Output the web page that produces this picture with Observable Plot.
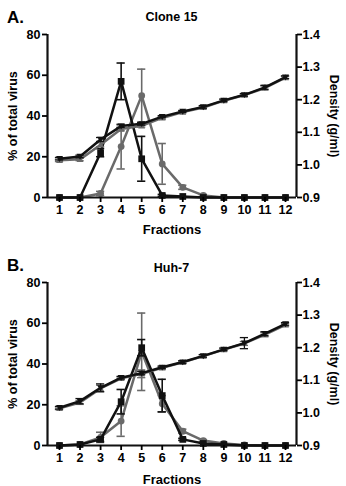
<!DOCTYPE html>
<html><head><meta charset="utf-8">
<script src="https://cdn.jsdelivr.net/npm/d3@7"></script>
<script src="https://cdn.jsdelivr.net/npm/@observablehq/plot@0.6"></script>
<style>
body{margin:0;background:#fff;font-family:"Liberation Sans",Arial,sans-serif;}
#wrap{position:relative;width:346px;height:486px;overflow:hidden;}
.panel{position:absolute;left:0;width:346px;height:243px;}
.letter{position:absolute;left:7px;font-weight:bold;font-size:17px;line-height:1;color:#000;}
.title{position:absolute;left:0;width:343px;text-align:center;font-weight:bold;font-size:12.5px;line-height:1;color:#000;}
</style></head>
<body>
<div id="wrap">
  <div class="panel" id="pA" style="top:0"></div>
  <div class="panel" id="pB" style="top:243px"></div>
  <div class="letter" style="top:9px">A.</div>
  <div class="title" style="top:11px">Clone 15</div>
  <div class="letter" style="top:257px">B.</div>
  <div class="title" style="top:262px">Huh-7</div>
</div>
<script>
const fractions = [1,2,3,4,5,6,7,8,9,10,11,12];

// Panel A: Clone 15
const cloneBlack = [0,0,22,57,19,1,0.5,0,0,0,0,0];
const cloneBlackErr = [0,0,2,9,11,0.5,0,0,0,0,0,0];
const cloneGray = [0,0,2,25,50,16.5,5,1,0,0,0,0];
const cloneGrayErr = [0,0,1,11,13,10,1,0.5,0,0,0,0];
const cloneDensBlack = [1.019,1.026,1.078,1.119,1.126,1.148,1.164,1.178,1.198,1.215,1.238,1.269];
const cloneDensBlackErr = [0.004,0.004,0.006,0.004,0.004,0.003,0.003,0.004,0.004,0.004,0.006,0.004];
const cloneDensGray = [1.014,1.017,1.062,1.110,1.120,1.144,1.162,1.176,1.197,1.214,1.236,1.268];
const cloneDensGrayErr = [0.004,0.004,0.006,0.005,0.004,0.004,0.003,0.004,0.004,0.004,0.006,0.004];

// Panel B: Huh-7
const huhBlack = [0,0.5,3,21.5,48,24.5,3,1,0.5,0,0,0];
const huhBlackErr = [0,0,1,6,4,8,0.5,0,0,0,0,0];
const huhGray = [0,0.5,4,12,46,20.5,7,2.4,1,0.3,0,0];
const huhGrayErr = [0,0,2.5,7.5,19,4,1,0.5,0,0,0,0];
const huhDensBlack = [1.016,1.036,1.077,1.108,1.122,1.140,1.156,1.175,1.195,1.214,1.243,1.273];
const huhDensBlackErr = [0.004,0.008,0.012,0.004,0.005,0.004,0.004,0.004,0.004,0.017,0.006,0.004];
const huhDensGray = [1.014,1.032,1.075,1.106,1.120,1.138,1.155,1.174,1.194,1.213,1.240,1.270];
const huhDensGrayErr = [0.004,0.006,0.010,0.004,0.012,0.004,0.004,0.004,0.004,0.006,0.006,0.004];

const leftTicks = [0,20,40,60,80];
const rightTicks = [0.9,1.0,1.1,1.2,1.3,1.4];

const BLACK = "#111";
const GRAY = "#6a6a6a";
const toY = d => (d - 0.9) * 160; // density on the left scale

const invTri = {draw(ctx, size){
  const k = Math.sqrt(size / Math.PI) * 1.05;
  ctx.moveTo(-k, -0.75*k); ctx.lineTo(k, -0.75*k); ctx.lineTo(0, 0.95*k); ctx.closePath();
}};
const upTri = {draw(ctx, size){
  const k = Math.sqrt(size / Math.PI) * 1.05;
  ctx.moveTo(-k, 0.75*k); ctx.lineTo(k, 0.75*k); ctx.lineTo(0, -0.95*k); ctx.closePath();
}};

function rows(vals, errs, tf = v => v) {
  return fractions.map((f, i) => ({f, v: tf(vals[i]), lo: tf(vals[i] - errs[i]), hi: tf(vals[i] + errs[i]), e: errs[i]}));
}

function errMarks(data, color, w = 1.6) {
  const d = data.filter(r => r.e > 0);
  return [
    Plot.ruleX(d, {x: "f", y1: "lo", y2: "hi", stroke: color, strokeWidth: w}),
    Plot.ruleY(d, {y: "hi", x1: r => r.f - 0.2, x2: r => r.f + 0.2, stroke: color, strokeWidth: w}),
    Plot.ruleY(d, {y: "lo", x1: r => r.f - 0.2, x2: r => r.f + 0.2, stroke: color, strokeWidth: w})
  ];
}

function panel(cfg) {
  const black = rows(cfg.black, cfg.blackErr);
  const gray = rows(cfg.gray, cfg.grayErr);
  const dB = rows(cfg.densBlack, cfg.densBlackErr, v => toY(v));
  const dG = rows(cfg.densGray, cfg.densGrayErr, v => toY(v));
  const xMin = 0.416, xMax = 12.535;
  return Plot.plot({
    width: 346, height: 243,
    marginTop: cfg.mt, marginBottom: cfg.mb, marginLeft: 47, marginRight: 50,
    x: {domain: [xMin, xMax]},
    y: {domain: [0, 80]},
    style: {fontFamily: "'Liberation Sans', Arial, sans-serif", fontSize: "12px", fontWeight: "bold", color: "#000", background: "transparent", overflow: "visible"},
    marks: [
      ...errMarks(gray, GRAY),
      Plot.line(gray, {x: "f", y: "v", stroke: GRAY, strokeWidth: 2.5}),
      Plot.dot(gray, {x: "f", y: "v", r: 3.4, symbol: "circle", fill: GRAY}),
      ...errMarks(black, BLACK),
      Plot.line(black, {x: "f", y: "v", stroke: BLACK, strokeWidth: 2.5}),
      Plot.dot(black, {x: "f", y: "v", r: 3.8, symbol: "square", fill: BLACK}),
      ...errMarks(dG, GRAY, 1.3),
      Plot.line(dG, {x: "f", y: "v", stroke: GRAY, strokeWidth: 2.5}),
      Plot.dot(dG, {x: "f", y: "v", r: 3.3, symbol: upTri, fill: GRAY}),
      ...errMarks(dB, BLACK, 1.3),
      Plot.line(dB, {x: "f", y: "v", stroke: BLACK, strokeWidth: 2.5}),
      Plot.dot(dB, {x: "f", y: "v", r: 3.3, symbol: invTri, fill: BLACK}),
      Plot.ruleX([xMin], {stroke: BLACK, strokeWidth: 2.2}),
      Plot.ruleX([xMax], {stroke: BLACK, strokeWidth: 2.2}),
      Plot.ruleY([0], {stroke: BLACK, strokeWidth: 2.2}),
      Plot.axisY({ticks: leftTicks, tickSize: 5, tickPadding: 2, strokeWidth: 1.8, label: null, fontSize: 12.5, fontWeight: "bold"}),
      Plot.axisY({anchor: "right", ticks: rightTicks.map(toY), tickFormat: v => (0.9 + v / 160).toFixed(1), tickSize: 5, tickPadding: 1, strokeWidth: 1.8, label: null, fontSize: 12.5, fontWeight: "bold"}),
      Plot.axisX({ticks: fractions, tickFormat: d => String(d), tickSize: 5, tickPadding: 3, strokeWidth: 1.8, label: null, fontSize: 12.5, fontWeight: "bold"}),
      Plot.text(["Fractions"], {frameAnchor: "bottom", dy: cfg.fracDy, textAnchor: "middle", lineAnchor: "middle", fontSize: 13, fontWeight: "bold", fill: "#000"}),
      Plot.text(["% of total virus"], {frameAnchor: "left", dx: -35, rotate: -90, textAnchor: "middle", lineAnchor: "middle", fontSize: 12.5, fontWeight: "bold", fill: "#000"}),
      Plot.text(["Density (g/ml)"], {frameAnchor: "right", dx: 37, rotate: 90, textAnchor: "middle", lineAnchor: "middle", fontSize: 12.5, fontWeight: "bold", fill: "#000"})
    ]
  });
}

document.getElementById("pA").append(panel({
  black: cloneBlack, blackErr: cloneBlackErr, gray: cloneGray, grayErr: cloneGrayErr,
  densBlack: cloneDensBlack, densBlackErr: cloneDensBlackErr, densGray: cloneDensGray, densGrayErr: cloneDensGrayErr,
  mt: 34, mb: 46, fracDy: 32
}));
document.getElementById("pB").append(panel({
  black: huhBlack, blackErr: huhBlackErr, gray: huhGray, grayErr: huhGrayErr,
  densBlack: huhDensBlack, densBlackErr: huhDensBlackErr, densGray: huhDensGray, densGrayErr: huhDensGrayErr,
  mt: 39, mb: 41, fracDy: 34
}));
</script>
</body></html>
